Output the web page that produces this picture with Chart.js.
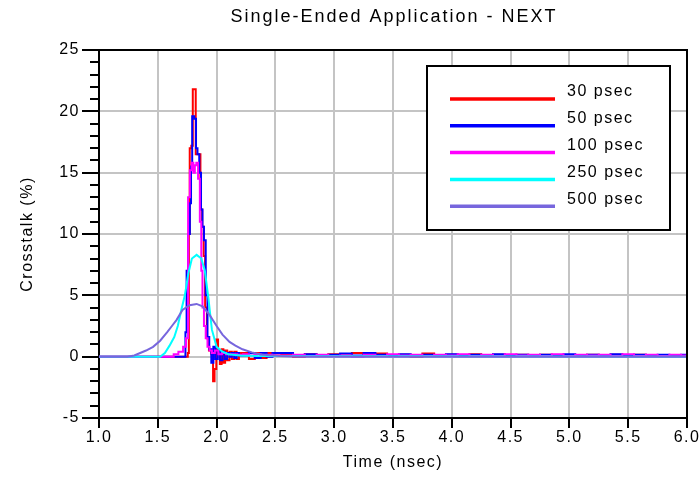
<!DOCTYPE html>
<html><head><meta charset="utf-8">
<script src="https://cdn.jsdelivr.net/npm/chart.js@4/dist/chart.umd.min.js"></script>
<style>html,body{margin:0;padding:0;background:#fff;}canvas{display:block;}</style>
</head><body>
<canvas id="c" width="699" height="501"></canvas>
<script>
// ---------- data ----------
const chartTitle = 'Single-Ended Application - NEXT';
const xAxisTitle = 'Time (nsec)';
const yAxisTitle = 'Crosstalk (%)';
const seriesLabels = ['30 psec', '50 psec', '100 psec', '250 psec', '500 psec'];
const seriesColors = ['#ff0000', '#0000ff', '#ff00ff', '#00ffff', '#7766dd'];
const xTickLabels = ['1.0','1.5','2.0','2.5','3.0','3.5','4.0','4.5','5.0','5.5','6.0'];
const yTickLabels = ['-5','0','5','10','15','20','25'];

const tailTime = [2.25,2.3,2.35,2.4,2.45,2.5,2.6,2.7,2.8,2.9,3.0,3.1,3.2,3.3,3.4,3.5,3.6,3.7,3.8,3.9,4.0,4.1,4.2,4.3,4.4,4.5,4.6,4.7,4.8,4.9,5.0,5.1,5.2,5.3,5.4,5.5,5.6,5.7,5.8,5.9,6.0];

const time30 = [1.0,1.75,1.76,1.768,1.775,1.795,1.80,1.82,1.825,1.855,1.87,1.885,1.895,1.91,1.925,1.945,1.965,1.975,1.99,2.005,2.02,2.035,2.05,2.065,2.08,2.10,2.12,2.14,2.16,2.18,2.20];
const peak30 = [0,0,0.3,10,17,17.2,21.8,21.8,16.5,16.5,12,10.6,8.2,4,1.5,0.5,0.2,-2.0,-1.0,1.4,0.2,-0.6,0.6,-0.5,0.5,-0.3,0.4,-0.2,0.4,-0.2,0.3];
const tail30 = [0.3,-0.2,0.3,-0.1,0.3,0.1,0.2,0.0,0.2,0.05,0.2,0.1,0.3,0.1,0.25,0.05,0.15,0.0,0.25,0.1,0.15,0.05,0.2,0.05,0.15,0.05,0.15,0.05,0.15,0.05,0.1,0.05,0.15,0.05,0.15,0.05,0.15,0.05,0.1,0.05,0.1];

const time50 = [1.0,1.73,1.74,1.75,1.765,1.78,1.785,1.80,1.82,1.83,1.845,1.86,1.875,1.885,1.90,1.915,1.93,1.945,1.965,1.98,2.0,2.02,2.04,2.06,2.08,2.10,2.12,2.14,2.16,2.18,2.20];
const peak50 = [0,0,2,7,10,12.5,15.5,19.6,19.4,17.0,16.5,15.0,12.0,10.6,9.5,5.0,1.6,0.6,-0.5,0.8,-0.2,0.5,-0.3,0.4,-0.2,0.3,0.0,0.3,-0.1,0.3,0.1];
const tail50 = [0.1,0.3,-0.1,0.3,0.0,0.3,0.3,0.1,0.2,0.05,0.15,0.25,0.1,0.3,0.15,0.1,0.2,0.1,0.15,0.05,0.2,0.05,0.15,0.05,0.2,0.05,0.15,0.05,0.15,0.05,0.2,0.05,0.15,0.05,0.2,0.05,0.15,0.05,0.15,0.05,0.15];

const time100 = [1.0,1.62,1.65,1.70,1.73,1.75,1.765,1.78,1.795,1.81,1.82,1.835,1.85,1.865,1.875,1.885,1.90,1.915,1.93,1.95,1.97,2.0,2.03,2.06,2.1,2.15,2.2];
const peak100 = [0,0,0.2,0.4,0.8,1.5,13,15.2,15.8,15.0,15.6,15.8,14.5,11,7,4,2.5,1.5,0.8,0.5,0.3,0.5,0.2,0.3,0.2,0.2,0.15];
const tail100 = [0.2,0.1,0.2,0.1,0.15,0.1,0.1,0.15,0.05,0.15,0.05,0.1,0.0,0.15,0.05,0.2,0.1,0.15,0.05,0.15,0.1,0.2,0.05,0.15,0.05,0.2,0.1,0.15,0.05,0.2,0.05,0.15,0.1,0.15,0.05,0.2,0.05,0.15,0.05,0.15,0.1];

const time250 = [1.0,1.52,1.56,1.60,1.64,1.67,1.70,1.73,1.76,1.79,1.83,1.87,1.90,1.93,1.96,2.00,2.05,2.10,2.20,2.35,6.0];
const vals250 = [0,0,0.3,0.9,1.6,2.5,3.8,5.0,6.8,8.0,8.3,8.0,7.0,4.8,2.2,0.8,0.4,0.2,0.1,0.05,0];

const time500 = [1.0,1.24,1.30,1.35,1.40,1.46,1.52,1.58,1.62,1.66,1.71,1.77,1.83,1.88,1.94,2.00,2.05,2.11,2.16,2.22,2.30,2.37,2.45,2.54,2.7,6.0];
const vals500 = [0,0,0.1,0.3,0.5,0.8,1.3,2.0,2.5,3.0,3.8,4.2,4.3,4.1,3.4,2.5,1.8,1.2,0.9,0.6,0.35,0.2,0.12,0.05,0,0];

// ---------- build ----------
const FONT = "'Liberation Sans', Arial, sans-serif";
function pts(ts, vs) { return ts.map((t, i) => ({ x: t, y: vs[i] })); }
const seriesData = [
  pts(time30.concat(tailTime), peak30.concat(tail30)),
  pts(time50.concat(tailTime), peak50.concat(tail50)),
  pts(time100.concat(tailTime), peak100.concat(tail100)),
  pts(time250, vals250),
  pts(time500, vals500)
];
const stepModes = ['middle', 'middle', 'middle', false, false];
const drawOrder = [5, 4, 3, 2, 1];

const datasets = seriesLabels.map((lab, i) => ({
  label: lab,
  data: seriesData[i],
  borderColor: seriesColors[i],
  backgroundColor: seriesColors[i],
  borderWidth: 2,
  pointRadius: 0,
  tension: 0,
  stepped: stepModes[i],
  order: drawOrder[i],
  fill: false
}));

const decor = {
  id: 'decor',
  beforeDraw(chart) { chart.ctx.letterSpacing = '1.5px'; },
  afterDraw(chart) {
    const { ctx, chartArea: a, scales } = chart;
    const ys = scales.y;
    ctx.save();
    ctx.strokeStyle = '#000';
    ctx.lineWidth = 2;
    ctx.beginPath();
    ctx.moveTo(a.left, a.top); ctx.lineTo(a.right, a.top); ctx.lineTo(a.right, a.bottom);
    ctx.stroke();
    for (let v = ys.min; v <= ys.max; v += 1) {
      if (v % 5 === 0) continue;
      const py = Math.round(ys.getPixelForValue(v));
      ctx.beginPath();
      ctx.moveTo(a.left - 9, py); ctx.lineTo(a.left, py);
      ctx.stroke();
    }
    ctx.fillStyle = '#000';
    ctx.font = '18px ' + FONT;
    ctx.letterSpacing = '2px';
    ctx.textAlign = 'center';
    ctx.textBaseline = 'middle';
    ctx.fillText(chartTitle, (a.left + a.right) / 2 + 1, 17);
    const bx = 427, by = 66, bw = 243, bh = 164;
    ctx.fillStyle = '#fff';
    ctx.fillRect(bx, by, bw, bh);
    ctx.strokeStyle = '#000';
    ctx.lineWidth = 2;
    ctx.strokeRect(bx, by, bw, bh);
    ctx.font = '16px ' + FONT;
    ctx.letterSpacing = '1.5px';
    ctx.textAlign = 'left';
    chart.data.datasets.forEach((ds, i) => {
      const ly = 99 + i * 26.8;
      ctx.strokeStyle = ds.borderColor;
      ctx.lineWidth = 3.5;
      ctx.beginPath();
      ctx.moveTo(450, ly); ctx.lineTo(555, ly);
      ctx.stroke();
      ctx.fillStyle = '#000';
      ctx.fillText(ds.label, 567, ly - 7);
    });
    ctx.restore();
  }
};

new Chart(document.getElementById('c'), {
  type: 'line',
  data: { datasets },
  options: {
    responsive: false,
    animation: false,
    events: [],
    layout: { padding: { top: 50, right: 12, left: 0, bottom: 0 } },
    plugins: { legend: { display: false }, tooltip: { enabled: false }, title: { display: false } },
    scales: {
      x: {
        type: 'linear', min: 1, max: 6,
        afterFit(s) { s.height = 83; },
        afterBuildTicks(s) { s.ticks = xTickLabels.map(l => ({ value: parseFloat(l) })); },
        ticks: {
          callback: (v, i) => xTickLabels[i],
          color: '#000', font: { family: FONT, size: 16 }, padding: 0, maxRotation: 0, autoSkip: false
        },
        grid: { color: '#c4c4c4', lineWidth: 2, tickColor: '#000', tickWidth: 2, tickLength: 10, drawTicks: true },
        border: { color: '#000', width: 2 },
        title: { display: true, text: xAxisTitle, color: '#000', font: { family: FONT, size: 16 }, padding: { top: 0, bottom: 29 } }
      },
      y: {
        type: 'linear', min: -5, max: 25,
        afterFit(s) { s.width = 99; },
        afterBuildTicks(s) { s.ticks = yTickLabels.map(l => ({ value: parseFloat(l) })); },
        ticks: {
          callback: (v, i) => yTickLabels[i],
          color: '#000', font: { family: FONT, size: 16 }, padding: 2, autoSkip: false
        },
        grid: { color: '#c4c4c4', lineWidth: 2, tickColor: '#000', tickWidth: 2, tickLength: 17, drawTicks: true },
        border: { color: '#000', width: 2 },
        title: { display: true, text: yAxisTitle, color: '#000', font: { family: FONT, size: 16 }, padding: { top: 18, bottom: 0 } }
      }
    }
  },
  plugins: [decor]
});
</script>
</body></html>
